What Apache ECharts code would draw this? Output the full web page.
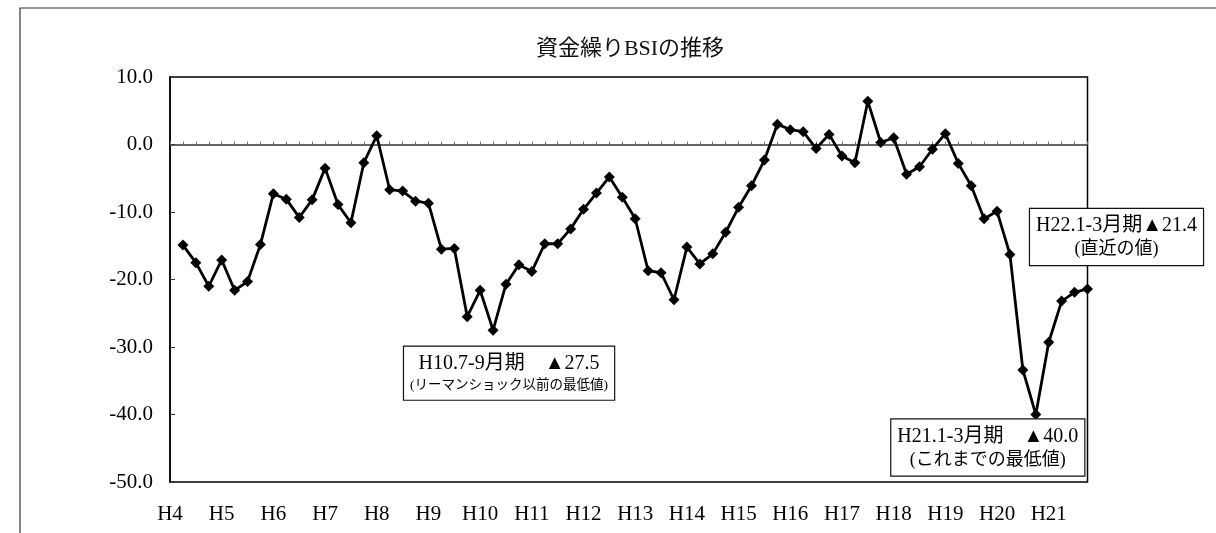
<!DOCTYPE html>
<html>
<head>
<meta charset="utf-8">
<script src="https://cdn.jsdelivr.net/npm/echarts@6/dist/echarts.min.js"></script>
<style>
  html, body { margin: 0; padding: 0; background: #fff; }
  #chart { width: 1216px; height: 533px; }
</style>
</head>
<body>
<div id="chart"></div>
<script>
// Quarterly BSI, H4.7-9 (index 0) ... H22.1-3 (index 70)
const bsi = [
  -14.9, -17.5, -21.0, -17.1, -21.6, -20.3, -14.8, -7.3, -8.1, -10.8,
  -8.2, -3.5, -8.9, -11.6, -2.7, 1.3, -6.7, -6.9, -8.4, -8.7,
  -15.5, -15.4, -25.5, -21.6, -27.5, -20.7, -17.8, -18.8, -14.7, -14.7,
  -12.5, -9.6, -7.2, -4.8, -7.8, -11.0, -18.7, -19.0, -23.0, -15.2,
  -17.7, -16.2, -13.0, -9.3, -6.1, -2.3, 3.0, 2.2, 1.9, -0.6,
  1.5, -1.7, -2.7, 6.4, 0.3, 1.0, -4.4, -3.3, -0.7, 1.6,
  -2.8, -6.1, -11.0, -9.9, -16.3, -33.4, -40.0, -29.3, -23.2, -21.9, -21.4
];
const yearLabels = ['H4','H5','H6','H7','H8','H9','H10','H11','H12','H13','H14','H15','H16','H17','H18','H19','H20','H21'];
const yTicks = { min: -50, max: 10, step: 10 };
const titleText = '資金繰りBSIの推移';
// annotations: index into bsi, first line, second line
const noteIdx = [24, 66, 70];
const noteLine1 = ['H10.7-9月期　▲27.5', 'H21.1-3月期　▲40.0', 'H22.1-3月期▲21.4'];
const noteLine2 = ['(リーマンショック以前の最低値)', '(これまでの最低値)', '(直近の値)'];

const FONT = "'Liberation Serif', 'Noto Sans CJK JP', serif";
const noteOffsets = [[16, 43], [-48, 33], [29, -52]];
const noteSub = ['s', 'b', 'b'];

const chart = echarts.init(document.getElementById('chart'));
const seriesData = bsi.map((v, i) => [i, v]);

const markData = noteIdx.map((idx, k) => ({
  coord: [idx, bsi[idx]],
  label: {
    show: true,
    position: 'inside',
    offset: noteOffsets[k],
    formatter: '{a|' + noteLine1[k] + '}\n{' + noteSub[k] + '|' + noteLine2[k] + '}',
    backgroundColor: '#fff',
    borderColor: '#111',
    borderWidth: 1.2,
    padding: [5, 6, 4, 6],
    align: 'center',
    verticalAlign: 'middle',
    rich: {
      a: { fontFamily: FONT, fontSize: 20, color: '#000', lineHeight: 24, align: 'center' },
      b: { fontFamily: FONT, fontSize: 18, color: '#000', lineHeight: 23, align: 'center' },
      s: { fontFamily: FONT, fontSize: 13.5, color: '#000', lineHeight: 20, align: 'center' }
    }
  }
}));

chart.setOption({
  animation: false,
  backgroundColor: '#fff',
  title: {
    text: titleText,
    left: 625,
    top: 33,
    textAlign: 'center',
    textStyle: { fontFamily: FONT, fontSize: 22, fontWeight: 'normal', color: '#111' }
  },
  graphic: [{
    type: 'rect',
    shape: { x: 20, y: 8, width: 1300, height: 700 },
    style: { fill: null, stroke: '#333', lineWidth: 1.2 },
    silent: true
  }],
  grid: {
    left: 170, top: 77, width: 917.5, height: 405,
    show: true, borderColor: '#000', borderWidth: 1.5, backgroundColor: 'transparent'
  },
  xAxis: [{
    type: 'value', min: -1, max: 70, interval: 1, position: 'bottom',
    axisLine: { show: true, onZero: true, lineStyle: { color: '#333', width: 1.5 } },
    axisTick: { show: true, inside: true, length: 3, lineStyle: { color: '#777' } },
    axisLabel: { show: false },
    splitLine: { show: false }
  }, {
    type: 'value', min: -1, max: 70, interval: 4, position: 'bottom',
    axisLine: { show: false, onZero: false },
    axisTick: { show: false },
    splitLine: { show: false },
    axisLabel: {
      show: true, margin: 22, fontFamily: FONT, fontSize: 21, color: '#000',
      showMaxLabel: false,
      formatter: v => {
        const k = (v + 1) / 4;
        return Number.isInteger(k) && k < yearLabels.length ? yearLabels[k] : '';
      }
    }
  }],
  yAxis: {
    type: 'value', min: yTicks.min, max: yTicks.max, interval: yTicks.step,
    axisLine: { show: true, onZero: false, lineStyle: { color: '#000', width: 1.5 } },
    axisTick: { show: true, inside: true, length: 5, lineStyle: { color: '#333' } },
    splitLine: { show: false },
    axisLabel: {
      margin: 17, fontFamily: FONT, fontSize: 21, color: '#000',
      formatter: v => v.toFixed(1)
    }
  },
  series: [{
    type: 'line',
    xAxisIndex: 0,
    data: seriesData,
    symbol: 'diamond',
    symbolSize: 11,
    lineStyle: { color: '#000', width: 2.8 },
    itemStyle: { color: '#000' },
    z: 3,
    markPoint: {
      symbol: 'rect',
      symbolSize: 1,
      itemStyle: { color: 'rgba(0,0,0,0)' },
      z: 10,
      data: markData
    }
  }]
});
</script>
</body>
</html>
